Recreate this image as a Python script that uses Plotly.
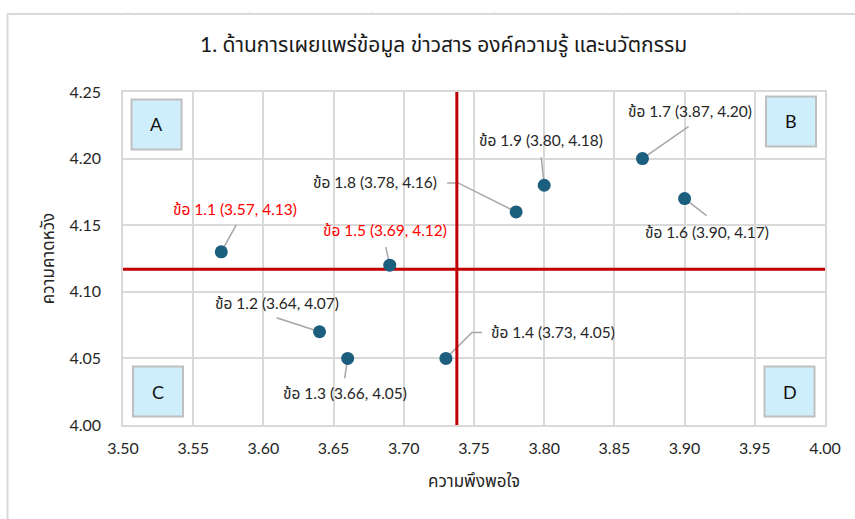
import plotly.graph_objects as go

# ---- data ----
items = ["1.1", "1.2", "1.3", "1.4", "1.5", "1.6", "1.7", "1.8", "1.9"]
satisfaction = [3.57, 3.64, 3.66, 3.73, 3.69, 3.90, 3.87, 3.78, 3.80]
expectation = [4.13, 4.07, 4.05, 4.05, 4.12, 4.17, 4.20, 4.16, 4.18]
highlighted = ["1.1", "1.5"]

x_mean = sum(satisfaction) / len(satisfaction)
y_ref = 4.117

x_ticks = [3.50, 3.55, 3.60, 3.65, 3.70, 3.75, 3.80, 3.85, 3.90, 3.95, 4.00]
y_ticks = [4.00, 4.05, 4.10, 4.15, 4.20, 4.25]
quadrants = ["A", "B", "C", "D"]

# label placement: text offset and leader path, in screen pixels from the point
label_offsets = {
    "1.1": ((14, -43), [(15, -27)]),
    "1.2": ((-43, -29), [(-43, -14)]),
    "1.3": ((-3, 35), [(-3, 20)]),
    "1.4": ((107, -26), [(26, -26), (36, -26)]),
    "1.5": ((-5, -35), [(-4, -18)]),
    "1.6": ((22, 33), [(22, 17)]),
    "1.7": ((48, -48), [(46, -32)]),
    "1.8": ((-141, -30), [(-58, -29), (-69, -29)]),
    "1.9": ((-3, -45), [(-3, -28)]),
}

# ---- geometry ----
W, H = 855, 519
L, R, T, B = 123, 30, 92, 94
plot_w, plot_h = W - L - R, H - T - B
x_range = [3.5, 4.0]
y_range = [4.0, 4.25]
sx = plot_w / (x_range[1] - x_range[0])
sy = plot_h / (y_range[1] - y_range[0])


def px_x(p):
    return (p - L) / plot_w


def px_y(p):
    return (H - B - p) / plot_h


FONT = "Lato, 'Noto Sans Thai', 'Noto Sans', sans-serif"
TEXT = "#262626"

fig = go.Figure()

# leader lines
for name, x, y in zip(items, satisfaction, expectation):
    _, path = label_offsets[name]
    xs, ys = [x], [y]
    for dx, dy in path:
        xs.append(x + dx / sx)
        ys.append(y - dy / sy)
    fig.add_trace(go.Scatter(
        x=xs, y=ys, mode="lines",
        line=dict(color="#A6A6A6", width=1.5),
        hoverinfo="skip", showlegend=False,
    ))

# reference lines
fig.add_trace(go.Scatter(x=[x_mean, x_mean], y=y_range, mode="lines",
                         line=dict(color="#C00000", width=3),
                         hoverinfo="skip", showlegend=False))
fig.add_trace(go.Scatter(x=x_range, y=[y_ref, y_ref], mode="lines",
                         line=dict(color="#C00000", width=3),
                         hoverinfo="skip", showlegend=False))

# points
fig.add_trace(go.Scatter(
    x=satisfaction, y=expectation, mode="markers",
    marker=dict(color="#1C5E7E", size=13),
    showlegend=False,
))

annotations = []
for name, x, y in zip(items, satisfaction, expectation):
    (tx, ty), _ = label_offsets[name]
    color = "#FF0000" if name in highlighted else TEXT
    annotations.append(dict(
        x=x, y=y, xref="x", yref="y",
        text=f"ข้อ {name} ({x:.2f}, {y:.2f})",
        showarrow=False, xshift=tx, yshift=-ty,
        xanchor="center", yanchor="middle",
        font=dict(family=FONT, size=15.5, color=color),
    ))

# quadrant boxes
box_centers = {"A": (156.5, 124.5), "B": (791, 121.5), "C": (158, 391.5), "D": (789.5, 391.5)}
shapes = []
for q in quadrants:
    cx, cy = box_centers[q]
    shapes.append(dict(
        type="rect", xref="paper", yref="paper",
        x0=px_x(cx - 25), x1=px_x(cx + 25), y0=px_y(cy + 25), y1=px_y(cy - 25),
        fillcolor="#CFEEFB", line=dict(color="#BFBFBF", width=2), layer="above",
    ))
    annotations.append(dict(
        x=px_x(cx), y=px_y(cy), xref="paper", yref="paper", text=q,
        xanchor="center", yanchor="middle",
        showarrow=False, font=dict(family=FONT, size=18, color="#111111"),
    ))

# outer frame
shapes.append(dict(type="line", xref="paper", yref="paper",
                   x0=px_x(7), x1=px_x(W), y0=px_y(14), y1=px_y(14),
                   line=dict(color="#D9D9D9", width=2)))
shapes.append(dict(type="line", xref="paper", yref="paper",
                   x0=px_x(7.5), x1=px_x(7.5), y0=px_y(14), y1=px_y(H),
                   line=dict(color="#D9D9D9", width=2)))
for tick_px in range(128, W, 122):
    shapes.append(dict(type="line", xref="paper", yref="paper",
                       x0=px_x(tick_px), x1=px_x(tick_px), y0=px_y(11), y1=px_y(14),
                       line=dict(color="#E3E3E3", width=1)))

# title
annotations.append(dict(
    x=px_x(443), y=px_y(45), xref="paper", yref="paper",
    text="1. ด้านการเผยแพร่ข้อมูล ข่าวสาร องค์ความรู้ และนวัตกรรม",
    xanchor="center", yanchor="middle",
    showarrow=False, font=dict(family=FONT, size=21, color="#1A1A1A"),
))

fig.update_layout(
    width=W, height=H,
    margin=dict(l=L, r=R, t=T, b=B),
    paper_bgcolor="white", plot_bgcolor="white",
    shapes=shapes, annotations=annotations,
    font=dict(family=FONT, color=TEXT),
    xaxis=dict(
        range=x_range, tickvals=x_ticks, ticktext=[f"{v:.2f}" for v in x_ticks],
        showgrid=True, gridcolor="#D9D9D9", gridwidth=1.5,
        showline=True, linecolor="#D9D9D9", linewidth=1.5, mirror=True,
        zeroline=False, ticks="", tickfont=dict(size=16, color=TEXT),
        ticklabelstandoff=8,
        title=dict(text="ความพึงพอใจ", font=dict(size=17, color=TEXT), standoff=19),
    ),
    yaxis=dict(
        range=y_range, tickvals=y_ticks, ticktext=[f"{v:.2f}" for v in y_ticks],
        showgrid=True, gridcolor="#D9D9D9", gridwidth=1.5,
        showline=True, linecolor="#D9D9D9", linewidth=1.5, mirror=True,
        zeroline=False, ticks="", tickfont=dict(size=16, color=TEXT),
        ticklabelstandoff=17,
        title=dict(text="ความคาดหวัง", font=dict(size=17, color=TEXT), standoff=10),
    ),
)

fig.write_html("out.html")
